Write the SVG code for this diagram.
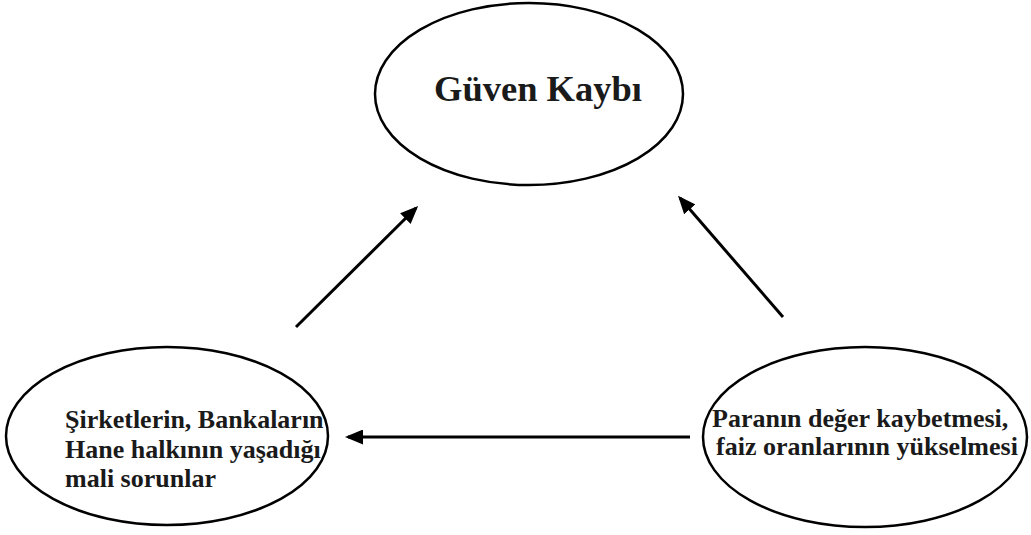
<svg xmlns="http://www.w3.org/2000/svg" width="1031" height="535" viewBox="0 0 1031 535">
<style>
.node ellipse{fill:#fff;stroke:#000;stroke-width:2.5}
.t{font-family:"Liberation Serif","Times New Roman",serif;font-weight:bold;fill:#1a1a1a}
.c line{stroke:#000;stroke-width:3}
</style>
<defs>
<marker id="ah" markerWidth="6" markerHeight="5" refX="5" refY="2.5" orient="auto" markerUnits="strokeWidth">
<path d="M0,0 L6,2.5 L0,5 Z" fill="#000"/>
</marker>
</defs>
<rect width="1031" height="535" fill="#fff"/>
<g id="guven" class="node">
<ellipse cx="529" cy="94" rx="154" ry="91"/>
<text class="t" x="538" y="101" font-size="36.5" text-anchor="middle">Güven Kaybı</text>
</g>
<g id="sirketler" class="node">
<ellipse cx="167" cy="436" rx="161" ry="89"/>
<text class="t" font-size="26"><tspan x="65" y="428">Şirketlerin, Bankaların</tspan><tspan x="65" y="458">Hane halkının yaşadığı</tspan><tspan x="65" y="487">mali sorunlar</tspan></text>
</g>
<g id="para" class="node">
<ellipse cx="865" cy="437" rx="162" ry="90"/>
<text class="t" font-size="26"><tspan x="712" y="427">Paranın değer kaybetmesi,</tspan><tspan x="716" y="455">faiz oranlarının yükselmesi</tspan></text>
</g>
<g id="connectors" class="c">
<line x1="296" y1="327" x2="416" y2="208" marker-end="url(#ah)"/>
<line x1="783" y1="317" x2="680" y2="198" marker-end="url(#ah)"/>
<line x1="690" y1="437" x2="348" y2="437" marker-end="url(#ah)"/>
</g>
</svg>
